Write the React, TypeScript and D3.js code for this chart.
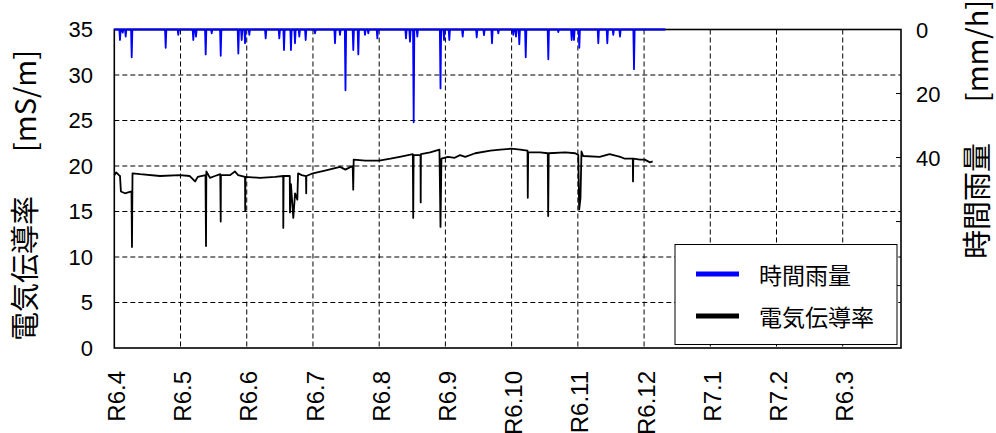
import React from 'react';
import * as d3 from 'd3';

// month tick labels (the last one is "R6.3" in the original figure)
const monthLabels = ['R6.4', 'R6.5', 'R6.6', 'R6.7', 'R6.8', 'R6.9', 'R6.10', 'R6.11', 'R6.12', 'R7.1', 'R7.2', 'R6.3'];

const ecTicks = [0, 5, 10, 15, 20, 25, 30, 35];
const rainTicks = [0, 20, 40, 60, 80];
const rainTickLabels = [0, 20, 40];

// electrical conductivity [mS/m], x in months since R6.4
const ecTime = [
  0.0, 0.03, 0.07, 0.086, 0.1, 0.16, 0.26, 0.267, 0.275, 0.39, 0.69, 0.99, 1.14, 1.22, 1.26,
  1.377, 1.385, 1.39, 1.445, 1.52, 1.6, 1.607, 1.61, 1.75, 1.82, 1.87, 1.974, 1.977, 1.98,
  2.2, 2.43, 2.55, 2.552, 2.557, 2.65, 2.653, 2.668, 2.703, 2.73, 2.764, 2.775, 2.83, 2.895,
  2.898, 2.9, 3.0, 3.18, 3.41, 3.49, 3.57, 3.6, 3.608, 3.615, 3.79, 4.0, 4.17, 4.31, 4.508,
  4.514, 4.52, 4.624, 4.627, 4.63, 4.77, 4.91, 4.926, 4.94, 5.04, 5.14, 5.22, 5.3, 5.45,
  5.68, 5.83, 5.99, 6.13, 6.24, 6.244, 6.25, 6.43, 6.546, 6.552, 6.56, 6.81, 6.96, 7.007,
  7.02, 7.04, 7.055, 7.08, 7.33, 7.48, 7.64, 7.71, 7.83, 7.833, 7.837, 7.94, 8.01, 8.09, 8.13,
];
const ecValue = [
  19.0, 19.3, 19.0, 18.9, 17.2, 17.0, 17.2, 11.1, 19.2, 19.1, 18.9, 19.0, 18.9, 18.3, 18.8,
  19.0, 11.2, 19.4, 18.7, 18.9, 19.1, 13.9, 19.0, 19.0, 19.4, 19.0, 18.8, 15.1, 18.8,
  18.7, 18.8, 18.9, 13.2, 18.9, 18.9, 14.9, 18.0, 14.3, 17.0, 16.3, 19.2, 19.0, 18.9,
  17.0, 18.9, 19.2, 19.5, 19.9, 19.6, 19.9, 20.0, 17.4, 20.7, 20.6, 20.6, 20.8, 21.0, 21.3,
  14.3, 21.2, 21.2, 16.0, 21.3, 21.5, 21.8, 13.3, 20.8, 21.0, 20.9, 21.2, 21.0, 21.4,
  21.7, 21.8, 21.9, 21.8, 21.7, 16.5, 21.5, 21.5, 21.4, 14.5, 21.4, 21.5, 21.4, 21.2,
  15.2, 16.5, 21.6, 21.1, 21.0, 21.3, 21.0, 20.8, 20.8, 18.3, 20.8, 20.7, 20.7, 20.4, 20.5,
];

// hourly rainfall events [mm/h]
const rainTime = [
  0.086, 0.127, 0.172, 0.263, 0.776, 0.966, 1.193, 1.234, 1.38, 1.471, 1.607, 1.873, 1.924,
  1.974, 2.039, 2.286, 2.492, 2.563, 2.668, 2.729, 2.794, 2.89, 3.031, 3.333, 3.408, 3.491,
  3.609, 3.685, 3.786, 3.836, 3.972, 4.405, 4.465, 4.521, 4.576, 4.926, 4.979, 5.059, 5.261,
  5.473, 5.583, 5.704, 5.799, 6.025, 6.066, 6.116, 6.213, 6.554, 6.705, 6.907, 6.942, 7.022,
  7.309, 7.445, 7.535, 7.637, 7.848,
];
const rainValue = [
  3.3, 1.0, 2.2, 8.7, 5.7, 1.7, 3.3, 2.2, 7.8, 1.2, 8.2, 7.5, 3.3,
  4.3, 1.7, 2.8, 2.8, 6.4, 6.4, 4.3, 2.2, 3.3, 1.2, 4.3, 1.7, 19.0,
  6.4, 7.8, 1.7, 1.2, 2.8, 2.8, 3.8, 29.0, 2.2, 18.4, 3.3, 3.3, 2.2,
  2.5, 1.8, 4.3, 1.2, 1.7, 2.2, 4.6, 8.7, 9.3, 0.8, 3.3, 3.3, 5.7,
  4.3, 4.3, 1.7, 2.2, 12.4,
];
const rainEnd = 8.32;

const W = 996;
const H = 433;
const L = 114.3, R = 901, T = 29.5, B = 348;

const numFont = '"Liberation Sans", Arial, sans-serif';
const jpFont = '"Noto Sans CJK JP", "Noto Sans", sans-serif';

export default function App() {
  const x = d3.scaleLinear().domain([0, 11.88]).range([L, R]);
  const yEc = d3.scaleLinear().domain([0, 35]).range([B, T]);
  const yRain = d3.scaleLinear().domain([0, 99.5]).range([T, B]);

  const ecLine = d3.line<number>()
    .x((d, i) => x(ecTime[i]))
    .y((d) => yEc(d));

  // rain drawn as spikes hanging from the top axis
  const rainPts: [number, number][] = [[0, 0]];
  rainTime.forEach((t, i) => {
    rainPts.push([t - 0.01, 0], [t, rainValue[i]], [t + 0.01, 0]);
  });
  rainPts.push([rainEnd, 0]);
  const rainLine = d3.line<[number, number]>()
    .x((d) => x(d[0]))
    .y((d) => yRain(d[1]));

  const monthIdx = monthLabels.map((_, i) => i);

  return (
    <svg width={W} height={H} style={{ position: 'absolute', left: 0, top: 0, background: '#fff' }}>
      {/* grid */}
      <g stroke="#000" strokeWidth={1} strokeDasharray="5,3">
        {ecTicks.filter((v) => v > 0 && v < 35).map((v) => (
          <line key={'h' + v} x1={L} x2={R} y1={yEc(v)} y2={yEc(v)} />
        ))}
        {monthIdx.filter((i) => i > 0).map((i) => (
          <line key={'v' + i} x1={x(i)} x2={x(i)} y1={T} y2={B} />
        ))}
      </g>

      {/* data */}
      <path d={ecLine(ecValue) || ''} fill="none" stroke="#000" strokeWidth={1.8} strokeLinejoin="round" />
      <path d={rainLine(rainPts) || ''} fill="none" stroke="#0000ff" strokeWidth={1.8} strokeLinejoin="round" />

      {/* frame */}
      <rect x={L} y={T} width={R - L} height={B - T} fill="none" stroke="#000" strokeWidth={1.6} />
      <line x1={x(0)} x2={x(rainEnd)} y1={T} y2={T} stroke="#0000ff" strokeWidth={1.6} />

      {/* tick marks */}
      <g stroke="#000" strokeWidth={1}>
        {rainTicks.filter((v) => v > 0).map((v) => (
          <line key={'rt' + v} x1={R} x2={R - 5} y1={yRain(v)} y2={yRain(v)} />
        ))}
      </g>

      {/* left tick labels */}
      <g fontFamily={numFont} fontSize={22} textAnchor="end">
        {ecTicks.map((v) => (
          <text key={'l' + v} x={93} y={yEc(v)} dy="0.36em">{v}</text>
        ))}
      </g>
      {/* right tick labels */}
      <g fontFamily={numFont} fontSize={22} textAnchor="start">
        {rainTickLabels.map((v) => (
          <text key={'r' + v} x={916} y={yRain(v)} dy="0.4em">{v}</text>
        ))}
      </g>
      {/* x tick labels */}
      <g fontFamily={numFont} fontSize={24} textAnchor="end">
        {monthLabels.map((m, i) => (
          <text key={m + i} transform={`translate(${x(i) + 2},371) rotate(-90)`} dy="0.36em">{m}</text>
        ))}
      </g>

      {/* axis titles */}
      <g fontFamily={jpFont} fontSize={29}>
        <text transform="translate(26,341) rotate(-90)" textAnchor="start" dy="0.36em">電気伝導率</text>
        <text transform="translate(26,101) rotate(-90)" textAnchor="middle" dy="0.36em">[mS/m]</text>
        <text transform="translate(978,259) rotate(-90)" textAnchor="start" dy="0.36em">時間雨量</text>
        <text transform="translate(978,51) rotate(-90)" textAnchor="middle" dy="0.36em">[mm/h]</text>
      </g>

      {/* legend */}
      <g>
        <rect x={675} y={244.5} width={222} height={100} fill="#fff" stroke="#000" strokeWidth={1} />
        <line x1={696} x2={739} y1={274} y2={274} stroke="#0000ff" strokeWidth={5} />
        <line x1={696} x2={739} y1={316} y2={316} stroke="#000" strokeWidth={5} />
        <text x={759} y={276} dy="0.36em" fontFamily={jpFont} fontSize={23}>時間雨量</text>
        <text x={759} y={318} dy="0.36em" fontFamily={jpFont} fontSize={23}>電気伝導率</text>
      </g>
    </svg>
  );
}
